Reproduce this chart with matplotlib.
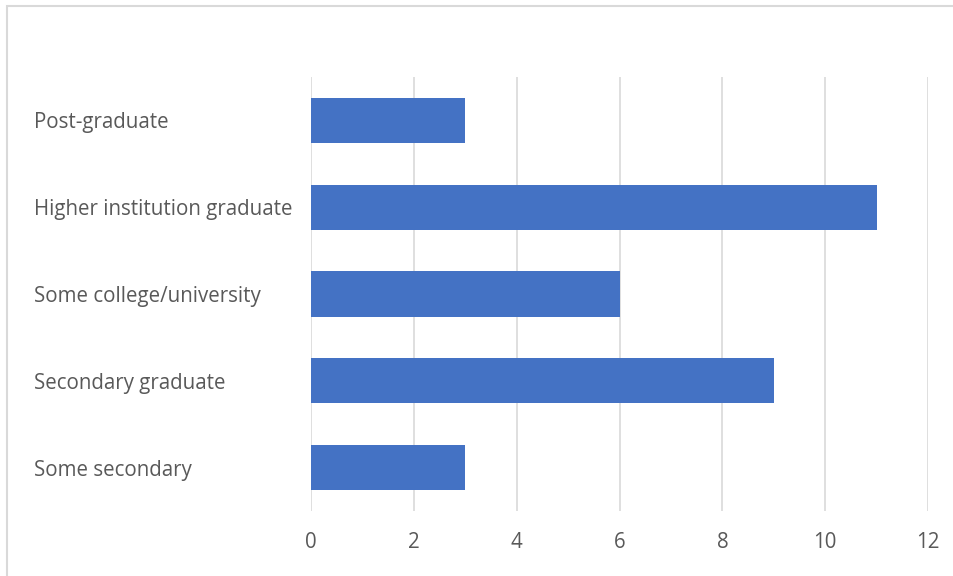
import matplotlib.pyplot as plt
from matplotlib.patches import Rectangle

categories = ['Some secondary', 'Secondary graduate', 'Some college/university',
              'Higher institution graduate', 'Post-graduate']
counts = [3, 9, 6, 11, 3]
xticks = [0, 2, 4, 6, 8, 10, 12]

plt.rcParams['font.family'] = ['Open Sans', 'DejaVu Sans']

fig = plt.figure(figsize=(9.54, 5.76), dpi=100)
ax = fig.add_axes([311/954, 1 - 511/576, (928 - 311)/954, (511 - 77)/576])

ax.barh(range(len(categories)), counts, height=0.52, color='#4472C4', zorder=3)

ax.set_xlim(0, 12)
ax.set_ylim(-0.5, len(categories) - 0.5)
ax.set_xticks(xticks)
ax.set_xticklabels([str(t) for t in xticks])
ax.set_yticks(range(len(categories)))
ax.set_yticklabels(categories, ha='left')

ax.tick_params(axis='y', length=0, pad=277 * 72 / 100, labelsize=14.8, labelcolor='#595959')
ax.tick_params(axis='x', length=0, pad=15, labelsize=14.8, labelcolor='#595959')

ax.grid(axis='x', color='#d9d9d9', linewidth=1.2, zorder=0)
for s in ax.spines.values():
    s.set_visible(False)

# outer chart frame
fig.patches.append(Rectangle((7/954, -0.1), 1.2, 1 - 6/576 + 0.1, transform=fig.transFigure,
                             fill=False, edgecolor='#d9d9d9', linewidth=1.5))

fig.savefig('out.png', dpi=100)
